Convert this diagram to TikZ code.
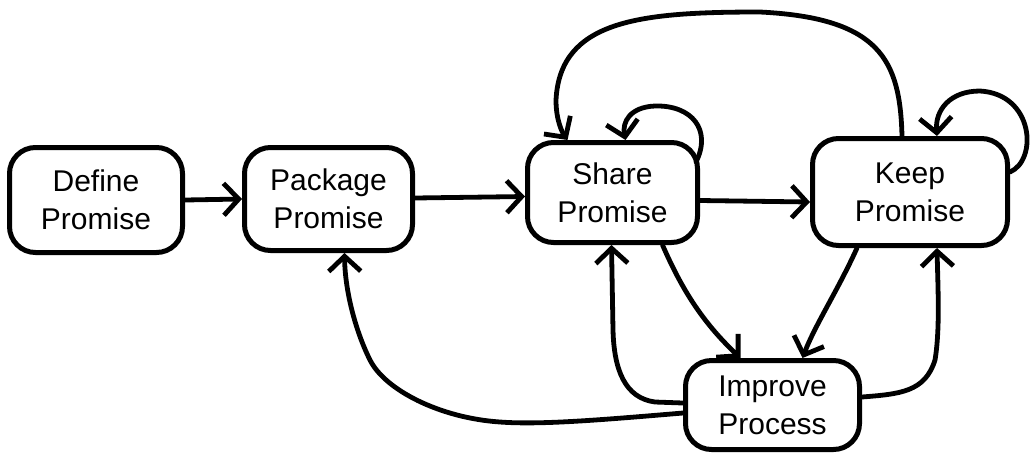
\documentclass[tikz,border=0pt]{standalone}
\usepackage{fontspec}
\setmainfont{Liberation Sans}
\usetikzlibrary{arrows.meta,calc}
\tikzset{
  box/.style={draw, line width=5pt, rounded corners=26pt, align=center,
    font=\fontsize{30}{38}\selectfont, inner sep=0pt},
  conn/.style={line width=4.8pt, line cap=round, line join=round,
    -{Straight Barb[length=15pt,width=32pt,line width=4.8pt]}}
}
\begin{document}
\begin{tikzpicture}[x=1pt,y=-1pt]
\useasboundingbox (0,0) rectangle (1033,459);
% nodes
\node[box, minimum width=173pt, minimum height=105pt] (def) at (96,200) {Define\\Promise};
\node[box, minimum width=168pt, minimum height=103pt] (pack) at (328.5,199) {Package\\Promise};
\node[box, minimum width=170pt, minimum height=100pt] (share) at (612.5,192.5) {Share\\Promise};
\node[box, minimum width=195pt, minimum height=107pt] (keep) at (910,192) {Keep\\Promise};
\node[box, minimum width=174pt, minimum height=89pt] (imp) at (772.5,405) {Improve\\Process};
% straight flow
\draw[conn] (def.east) -- (pack.west);
\draw[conn] ($(pack.east)+(0,-1)$) -- ($(share.west)+(0,4)$);
\draw[conn] ($(share.east)+(0,8)$) -- ($(keep.west)+(0,10)$);
% self loops
\draw[conn] ($(share.north east)+(-4,22)$) .. controls (712,130) and (692,105) .. (655,106)
  .. controls (630,107) and (622,122) .. ($(share.north)+(13,0)$);
\draw[conn] ($(keep.east)+(0,-20)$) .. controls (1038,160) and (1034,94) .. (980,91)
  .. controls (950,91) and (935,110) .. ($(keep.north)+(27,0)$);
% big loop keep -> share
\draw[conn] ($(keep.north)+(-8,0)$) .. controls (900,60) and (880,18) .. (760,12)
  .. controls (640,12) and (560,20) .. (556,100)
  .. controls (556,120) and (562,132) .. ($(share.north)+(-45,0)$);
% to improve
\draw[conn] ($(share.south)+(50,0)$) .. controls (680,285) and (700,320) .. ($(imp.north)+(-32,0)$);
\draw[conn] ($(keep.south)+(-53,0)$) .. controls (838,290) and (815,325) .. ($(imp.north)+(30,0)$);
% from improve
\draw[conn] ($(imp.west)+(0,-2)$) -- (655,402) .. controls (625,398) and (614,370) .. (613,330)
  -- ($(share.south)+(-1,0)$);
\draw[conn] ($(imp.west)+(0,8)$) .. controls (600,420) and (540,425) .. (500,422)
  .. controls (440,418) and (385,390) .. (370,360)
  .. controls (355,330) and (345,290) .. ($(pack.south)+(16,0)$);
\draw[conn] ($(imp.east)+(0,-8)$) .. controls (900,394) and (925,392) .. (935,360)
  .. controls (940,330) and (938,290) .. ($(keep.south)+(27,0)$);
\end{tikzpicture}
\end{document}
